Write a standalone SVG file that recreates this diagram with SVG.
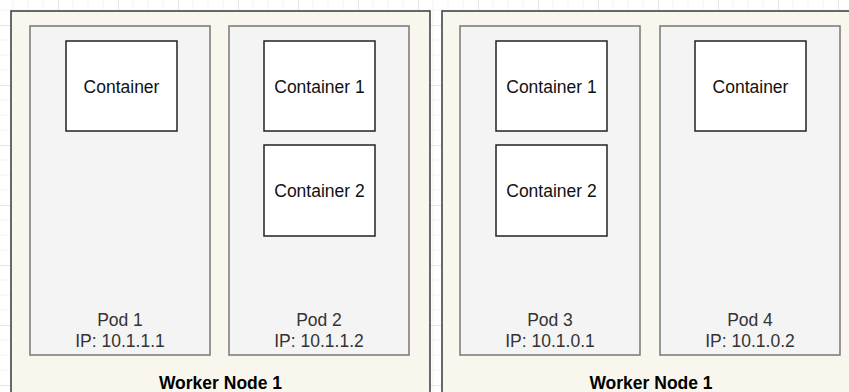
<svg xmlns="http://www.w3.org/2000/svg" width="849" height="392" viewBox="0 0 849 392">
  <defs>
    <pattern id="grid" x="-2" y="25" width="60" height="60" patternUnits="userSpaceOnUse">
      <path d="M15 0V60M30 0V60M45 0V60M0 15H60M0 30H60M0 45H60" stroke="#f3f3f3" stroke-width="1" fill="none"/>
      <path d="M0.5 0V60M0 0.5H60" stroke="#e6e6e6" stroke-width="1" fill="none"/>
    </pattern>
  </defs>
  <style>
    .node{fill:#f9f7ed;stroke:#36393d;stroke-width:1.5}
    .pod{fill:#f4f4f4;stroke:#777;stroke-width:1.5}
    .ctr{fill:#ffffff;stroke:#222;stroke-width:1.5}
    text{font-family:"Liberation Sans",Arial,Helvetica,sans-serif;font-size:17.5px;text-anchor:middle}
    .ct{fill:#111}
    .pt{fill:#333}
    .nt{fill:#000;font-weight:bold}
  </style>
  <rect width="849" height="392" fill="#ffffff"/>
  <rect width="849" height="392" fill="url(#grid)"/>

  <g id="worker-node-1">
    <rect class="node" x="11" y="11" width="419" height="400"/>
    <text class="nt" x="220.5" y="389">Worker Node 1</text>
  </g>
  <g id="worker-node-2">
    <rect class="node" x="442" y="11" width="419" height="400"/>
    <text class="nt" x="651" y="389">Worker Node 1</text>
  </g>

  <g id="pod-1">
    <rect class="pod" x="30" y="26" width="180" height="329"/>
    <text class="pt" x="120" y="326">Pod 1</text>
    <text class="pt" x="120" y="347">IP: 10.1.1.1</text>
  </g>
  <g id="pod-2">
    <rect class="pod" x="229" y="26" width="180" height="329"/>
    <text class="pt" x="319" y="326">Pod 2</text>
    <text class="pt" x="319" y="347">IP: 10.1.1.2</text>
  </g>
  <g id="pod-3">
    <rect class="pod" x="460" y="26" width="180" height="329"/>
    <text class="pt" x="550" y="326">Pod 3</text>
    <text class="pt" x="550" y="347">IP: 10.1.0.1</text>
  </g>
  <g id="pod-4">
    <rect class="pod" x="660" y="26" width="180" height="329"/>
    <text class="pt" x="750" y="326">Pod 4</text>
    <text class="pt" x="750" y="347">IP: 10.1.0.2</text>
  </g>

  <g id="pod1-container">
    <rect class="ctr" x="66" y="41" width="111" height="90"/>
    <text class="ct" x="121.5" y="92.5">Container</text>
  </g>
  <g id="pod2-container-1">
    <rect class="ctr" x="264" y="41" width="111" height="90"/>
    <text class="ct" x="319.5" y="92.5">Container 1</text>
  </g>
  <g id="pod2-container-2">
    <rect class="ctr" x="264" y="145" width="111" height="91"/>
    <text class="ct" x="319.5" y="197">Container 2</text>
  </g>
  <g id="pod3-container-1">
    <rect class="ctr" x="496" y="41" width="111" height="90"/>
    <text class="ct" x="551.5" y="92.5">Container 1</text>
  </g>
  <g id="pod3-container-2">
    <rect class="ctr" x="496" y="145" width="111" height="91"/>
    <text class="ct" x="551.5" y="197">Container 2</text>
  </g>
  <g id="pod4-container">
    <rect class="ctr" x="695" y="41" width="111" height="90"/>
    <text class="ct" x="750.5" y="92.5">Container</text>
  </g>

  <g id="connectors"/>
</svg>
